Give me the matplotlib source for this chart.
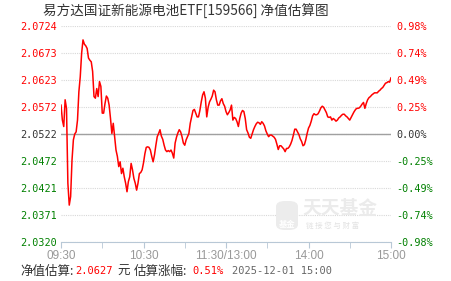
# -*- coding: utf-8 -*-
import matplotlib
matplotlib.use("Agg")
import matplotlib.pyplot as plt
from matplotlib.patches import FancyBboxPatch
import numpy as np

plt.rcParams['font.family'] = ['Noto Sans CJK SC', 'DejaVu Sans']

#########################################
### DATA
title = "易方达国证新能源电池ETF[159566] 净值估算图"
base_nav = 2.0522
nav_labels = ["2.0320", "2.0371", "2.0421", "2.0472", "2.0522",
              "2.0572", "2.0623", "2.0673", "2.0724"]
pct_labels = ["-0.98%", "-0.74%", "-0.49%", "-0.25%", "0.00%",
              "0.25%", "0.49%", "0.74%", "0.98%"]
time_labels = ["09:30", "10:30", "11:30/13:00", "14:00", "15:00"]
est_nav = "2.0627"
est_pct = "0.51%"
est_time = "2025-12-01 15:00"

# estimated nav, one value per minute (09:30 .. 11:30, 13:00 .. 15:00)
nav = [
    2.0576, 2.0548, 2.0536, 2.0586, 2.0570, 2.0430, 2.0389, 2.0405, 2.0473, 2.0511,
    2.0522, 2.0526, 2.0548, 2.0601, 2.0629, 2.0673, 2.0698, 2.0690, 2.0687, 2.0682,
    2.0664, 2.0660, 2.0657, 2.0639, 2.0592, 2.0589, 2.0607, 2.0592, 2.0620, 2.0611,
    2.0561, 2.0561, 2.0579, 2.0593, 2.0589, 2.0576, 2.0551, 2.0523, 2.0542, 2.0517,
    2.0492, 2.0480, 2.0461, 2.0470, 2.0448, 2.0458, 2.0442, 2.0430, 2.0414, 2.0433,
    2.0442, 2.0467, 2.0455, 2.0439, 2.0430, 2.0417, 2.0430, 2.0448, 2.0450, 2.0455,
    2.0468, 2.0485, 2.0497, 2.0498, 2.0497, 2.0492, 2.0480, 2.0470, 2.0483, 2.0501,
    2.0517, 2.0523, 2.0530, 2.0518, 2.0512, 2.0501, 2.0492, 2.0489, 2.0491, 2.0489,
    2.0492, 2.0486, 2.0477, 2.0505, 2.0516, 2.0524, 2.0530, 2.0526, 2.0517, 2.0505,
    2.0501, 2.0511, 2.0517, 2.0523, 2.0542, 2.0554, 2.0566, 2.0568, 2.0561, 2.0554,
    2.0554, 2.0566, 2.0582, 2.0595, 2.0601, 2.0589, 2.0554, 2.0572, 2.0582, 2.0587,
    2.0593, 2.0604, 2.0601, 2.0586, 2.0576, 2.0576, 2.0584, 2.0588, 2.0579, 2.0574,
    2.0564, 2.0558, 2.0562, 2.0567, 2.0576, 2.0548, 2.0553, 2.0551, 2.0545, 2.0536,
    2.0551, 2.0561, 2.0566, 2.0564, 2.0551, 2.0530, 2.0524, 2.0516, 2.0514, 2.0522,
    2.0530, 2.0536, 2.0541, 2.0544, 2.0543, 2.0540, 2.0545, 2.0542, 2.0537, 2.0528,
    2.0522, 2.0517, 2.0520, 2.0520, 2.0518, 2.0516, 2.0512, 2.0503, 2.0493, 2.0500,
    2.0500, 2.0497, 2.0494, 2.0489, 2.0495, 2.0495, 2.0498, 2.0503, 2.0510, 2.0520,
    2.0531, 2.0531, 2.0526, 2.0521, 2.0513, 2.0508, 2.0500, 2.0502, 2.0511, 2.0523,
    2.0533, 2.0538, 2.0546, 2.0556, 2.0560, 2.0558, 2.0558, 2.0560, 2.0565, 2.0571,
    2.0574, 2.0572, 2.0567, 2.0562, 2.0554, 2.0553, 2.0554, 2.0548, 2.0551, 2.0549,
    2.0546, 2.0548, 2.0552, 2.0554, 2.0557, 2.0559, 2.0559, 2.0556, 2.0554, 2.0551,
    2.0548, 2.0553, 2.0558, 2.0563, 2.0567, 2.0570, 2.0570, 2.0571, 2.0574, 2.0578,
    2.0581, 2.0570, 2.0579, 2.0586, 2.0590, 2.0592, 2.0595, 2.0597, 2.0599, 2.0599,
    2.0599, 2.0602, 2.0604, 2.0607, 2.0609, 2.0613, 2.0617, 2.0618, 2.0620, 2.0619,
    2.0627,
]

RED = '#ff0000'
GREEN = '#008000'
DARK = '#333333'
MONO = 'DejaVu Sans Mono'

#########################################
### FIGURE
fig = plt.figure(figsize=(4.51, 2.81), dpi=100)
fig.patch.set_facecolor('white')
ax = fig.add_axes([61 / 451, 39 / 281, 330 / 451, 216 / 281])

minutes = np.arange(len(nav))
ax.plot(minutes, nav, color=RED, lw=1.1, zorder=3)

lo, hi = float(nav_labels[0]), float(nav_labels[-1])
ax.set_xlim(0, 240)
ax.set_ylim(lo, hi)

ypos = np.linspace(lo, hi, len(nav_labels))
ax.set_yticks(ypos)
ax.set_yticklabels(nav_labels, fontfamily=MONO, fontsize=7.3)
ax.tick_params(axis='y', length=0, pad=3)
ax.grid(axis='y', color='#d8d8d8', linestyle=(0, (1, 1)), lw=0.8)
ax.axhline(base_nav, color='#a0a0a0', lw=1.0, zorder=2)

# right axis (change in %)
ax2 = ax.twinx()
ax2.set_ylim(lo, hi)
ax2.set_yticks(ypos)
ax2.set_yticklabels(pct_labels, fontfamily=MONO, fontsize=7.3)
ax2.tick_params(axis='y', length=0, pad=4)

for i, (l1, l2) in enumerate(zip(ax.get_yticklabels(), ax2.get_yticklabels())):
    c = GREEN if i < 4 else (DARK if i == 4 else RED)
    l1.set_color(c)
    l2.set_color(c)

##################### X AXIS
ax.set_xticks([0, 60, 120, 180, 240])
ax.set_xticklabels(time_labels, fontfamily='Liberation Sans', fontsize=8.5, color='#999999')
ax.set_xticks([30, 90, 150, 210], minor=True)
ax.tick_params(axis='x', which='both', direction='out', length=4, color='#b8c8d6', pad=1.5)

for a in (ax, ax2):
    for s in ('top', 'left', 'right'):
        a.spines[s].set_visible(False)
    a.spines['bottom'].set_color('#b8c8d6')
ax2.spines['bottom'].set_visible(False)

##################### TITLE
fig.text(186 / 451, 1 - 11 / 281, title, ha='center', va='center',
         fontsize=9.8, color=DARK)

##################### WATERMARK
box = FancyBboxPatch((276 / 451, 1 - 230 / 281), 22 / 451, 29 / 281,
                     boxstyle="round,pad=0,rounding_size=0.02",
                     transform=fig.transFigure, facecolor='#ececec',
                     edgecolor='none', zorder=1)
fig.patches.append(box)
fig.text(287 / 451, 1 - 224 / 281, "基金", ha='center', va='center',
         fontsize=6, color='white', fontweight='bold')
fig.text(302 / 451, 1 - 208 / 281, "天天基金", ha='left', va='center',
         fontsize=13.5, color='#ebebeb', fontweight='bold')
fig.text(306 / 451, 1 - 226 / 281, "链 接 您 与 财 富", ha='left', va='center',
         fontsize=5.4, color='#e2e2e2')

##################### FOOTER
fy = 1 - 271 / 281
fig.text(20 / 451, fy, "净值估算:", ha='left', va='center', fontsize=9, color=DARK)
fig.text(75 / 451, fy, est_nav, ha='left', va='center', fontsize=7.5,
         color=RED, fontfamily=MONO)
fig.text(117 / 451, fy, "元", ha='left', va='center', fontsize=9, color=DARK)
fig.text(134 / 451, fy, "估算涨幅:", ha='left', va='center', fontsize=9, color=DARK)
fig.text(192 / 451, fy, est_pct, ha='left', va='center', fontsize=7.5,
         color=RED, fontfamily=MONO)
fig.text(232 / 451, fy, est_time, ha='left', va='center', fontsize=7.5,
         color='#666666', fontfamily=MONO)

plt.savefig("out.png", dpi=100)
